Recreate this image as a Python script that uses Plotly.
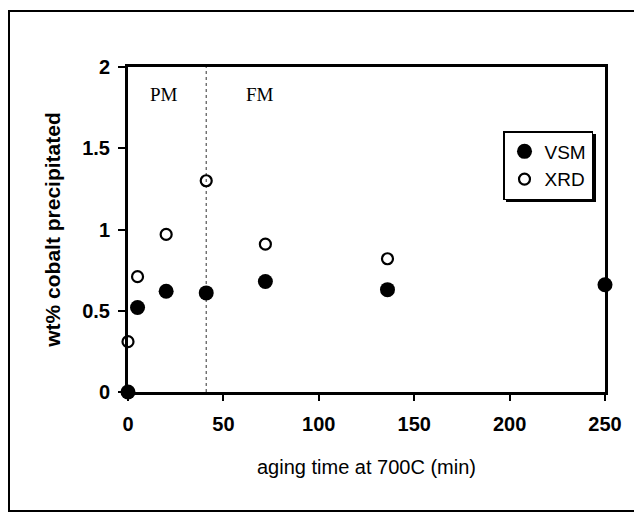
import plotly.graph_objects as go

# Data
vsm_x = [0, 5, 20, 41, 72, 136, 250]
vsm_y = [0.0, 0.52, 0.62, 0.61, 0.68, 0.63, 0.66]
xrd_x = [0, 5, 20, 41, 72, 136]
xrd_y = [0.31, 0.71, 0.97, 1.30, 0.91, 0.82]
boundary_x = 41
region_labels = ["PM", "FM"]
region_x = [19, 69]
region_y = 1.83
x_ticks = [0, 50, 100, 150, 200, 250]
y_ticks = [0, 0.5, 1, 1.5, 2]
y_ticktext = ["0", "0.5", "1", "1.5", "2"]

SANS = "Liberation Sans, Arial, sans-serif"
SERIF = "Liberation Serif, Times New Roman, serif"

# screen-pixel helpers (page body has an 8px margin)
PL, PR, PT, PB = 128, 605, 67, 392
def px(sx):
    return (sx - PL) / (PR - PL)
def py(sy):
    return (PB - sy) / (PB - PT)

fig = go.Figure()
fig.add_trace(go.Scatter(
    x=vsm_x, y=vsm_y, mode="markers", name="VSM", cliponaxis=False,
    marker=dict(symbol="circle", size=15, color="black", line=dict(width=0)),
))
fig.add_trace(go.Scatter(
    x=xrd_x, y=xrd_y, mode="markers", name="XRD", cliponaxis=False,
    marker=dict(symbol="circle-open", size=11, color="black", line=dict(width=2.2, color="black")),
))

# boundary between regions
fig.add_shape(type="line", xref="x", yref="y", x0=boundary_x, x1=boundary_x, y0=0, y1=2,
              line=dict(color="#555555", width=1.2, dash="dot"), layer="below")

for lbl, xx in zip(region_labels, region_x):
    fig.add_annotation(x=xx, y=region_y, xref="x", yref="y", text=lbl, showarrow=False,
                       font=dict(family=SERIF, size=19, color="black"))

# outer frame around the whole figure
fig.add_shape(type="rect", xref="paper", yref="paper",
              x0=px(9), x1=px(660), y0=py(511), y1=py(11),
              line=dict(color="black", width=2), fillcolor="rgba(0,0,0,0)")

# legend shadow
fig.add_shape(type="rect", xref="paper", yref="paper",
              x0=px(506), x1=px(596), y0=py(202), y1=py(134),
              line=dict(width=0), fillcolor="black", layer="above")

fig.update_layout(
    width=634, height=505,
    margin=dict(l=PL - 8, r=634 - (PR - 8), t=PT - 8, b=505 - (PB - 8)),
    paper_bgcolor="white", plot_bgcolor="white",
    showlegend=True,
    legend=dict(
        x=px(503), y=py(131), xanchor="left", yanchor="top",
        bgcolor="white", bordercolor="black", borderwidth=1.5,
        font=dict(family=SANS, size=19, color="black"),
        itemsizing="trace", tracegroupgap=0,
    ),
    xaxis=dict(
        range=[0, 250], tickvals=x_ticks, showgrid=False, zeroline=False,
        showline=True, linecolor="black", linewidth=3, mirror=True,
        ticks="outside", ticklen=6, tickwidth=1.5, tickcolor="black",
        ticklabelstandoff=6,
        tickfont=dict(family=SANS, size=20, color="black", weight="bold"),
        title=dict(text="aging time at 700C (min)", standoff=26,
                   font=dict(family=SANS, size=20, color="black")),
    ),
    yaxis=dict(
        range=[0, 2], tickvals=y_ticks, ticktext=y_ticktext, showgrid=False, zeroline=False,
        showline=True, linecolor="black", linewidth=3, mirror=True,
        ticks="outside", ticklen=7, tickwidth=1.5, tickcolor="black",
        ticklabelstandoff=4,
        tickfont=dict(family=SANS, size=20, color="black", weight="bold"),
        title=dict(text="wt% cobalt precipitated", standoff=16,
                   font=dict(family=SANS, size=21, color="black", weight="bold")),
    ),
)

fig.write_html("out.html")
